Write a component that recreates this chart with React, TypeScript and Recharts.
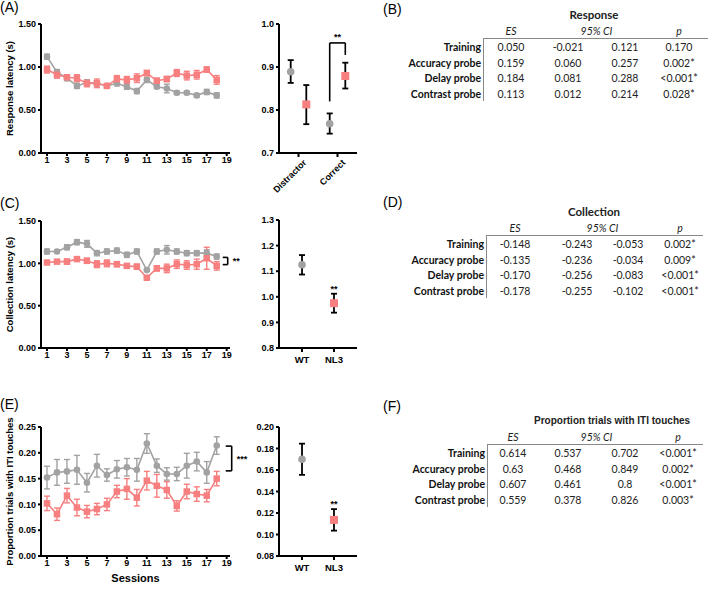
import React from 'react';
import {
  LineChart, Line, XAxis, YAxis, ErrorBar, ScatterChart, Scatter,
  ReferenceLine, ReferenceDot, Label,
} from 'recharts';

// ---------- DATA ----------
const sessions = [1, 2, 3, 4, 5, 6, 7, 8, 9, 10, 11, 12, 13, 14, 15, 16, 17, 18];
const sessionTicks = [1, 3, 5, 7, 9, 11, 13, 15, 17, 19];

// (A) Response latency
const respWT = [1.12, 0.94, 0.87, 0.78, 0.82, 0.81, 0.78, 0.81, 0.77, 0.72, 0.85, 0.77, 0.75, 0.70, 0.70, 0.67, 0.71, 0.67];
const respWTErr = [0.03, 0.03, 0.03, 0.03, 0.03, 0.03, 0.02, 0.03, 0.03, 0.03, 0.03, 0.02, 0.05, 0.02, 0.02, 0.02, 0.03, 0.03];
const respNL3 = [0.97, 0.91, 0.88, 0.87, 0.81, 0.81, 0.78, 0.86, 0.85, 0.87, 0.93, 0.84, 0.86, 0.93, 0.90, 0.91, 0.97, 0.85];
const respNL3Err = [0.04, 0.04, 0.03, 0.04, 0.04, 0.05, 0.02, 0.04, 0.04, 0.05, 0.03, 0.03, 0.03, 0.04, 0.05, 0.05, 0.03, 0.05];
const respTicks = [0, 0.5, 1.0, 1.5];

// (A, right) Distractor vs Correct
const trialTypes = ['Distractor', 'Correct'];
const trialWT = [0.889, 0.768];
const trialWTLow = [0.026, 0.023];
const trialWTHigh = [0.027, 0.024];
const trialNL3 = [0.813, 0.879];
const trialNL3Low = [0.046, 0.029];
const trialNL3High = [0.045, 0.031];
const trialTicks = [0.7, 0.8, 0.9, 1.0];

// (C) Collection latency
const collWT = [1.14, 1.14, 1.19, 1.25, 1.23, 1.12, 1.14, 1.15, 1.10, 1.14, 0.92, 1.14, 1.16, 1.14, 1.12, 1.12, 1.12, 1.08];
const collWTErr = [0.03, 0.02, 0.03, 0.03, 0.04, 0.03, 0.03, 0.03, 0.03, 0.03, 0.01, 0.03, 0.05, 0.03, 0.03, 0.03, 0.04, 0.03];
const collNL3 = [1.01, 1.02, 1.02, 1.05, 1.03, 0.99, 1.00, 0.99, 0.97, 0.96, 0.83, 0.94, 0.94, 0.99, 0.98, 0.99, 1.06, 0.97];
const collNL3Err = [0.02, 0.02, 0.03, 0.02, 0.03, 0.04, 0.04, 0.03, 0.02, 0.03, 0.02, 0.03, 0.05, 0.05, 0.05, 0.06, 0.13, 0.05];
const collTicks = [0, 0.5, 1.0, 1.5];

// (C, right) genotype means
const genotypes = ['WT', 'NL3'];
const collGenoWT = [1.125];
const collGenoWTErr = [0.038];
const collGenoNL3 = [0.975];
const collGenoNL3Err = [0.037];
const collGenoTicks = [0.8, 0.9, 1.0, 1.1, 1.2, 1.3];

// (E) Proportion trials with ITI touches
const itiWT = [0.152, 0.162, 0.164, 0.167, 0.142, 0.175, 0.157, 0.168, 0.172, 0.167, 0.218, 0.175, 0.159, 0.159, 0.175, 0.183, 0.162, 0.214];
const itiWTErr = [0.022, 0.025, 0.023, 0.028, 0.018, 0.022, 0.012, 0.017, 0.017, 0.022, 0.019, 0.013, 0.012, 0.013, 0.024, 0.018, 0.021, 0.017];
const itiNL3 = [0.102, 0.081, 0.117, 0.094, 0.086, 0.091, 0.100, 0.125, 0.130, 0.113, 0.146, 0.136, 0.128, 0.097, 0.125, 0.120, 0.117, 0.150];
const itiNL3Err = [0.014, 0.012, 0.014, 0.016, 0.012, 0.011, 0.012, 0.012, 0.020, 0.016, 0.018, 0.022, 0.016, 0.010, 0.014, 0.014, 0.012, 0.014];
const itiTicks = [0, 0.05, 0.10, 0.15, 0.20, 0.25];

// (E, right)
const itiGenoWT = [0.170];
const itiGenoWTErr = [0.0145];
const itiGenoNL3 = [0.1136];
const itiGenoNL3Err = [0.010];
const itiGenoTicks = [0.08, 0.10, 0.12, 0.14, 0.16, 0.18, 0.20];

// Tables
const rowLabels = ['Training', 'Accuracy probe', 'Delay probe', 'Contrast probe'];
const respES = ['0.050', '0.159', '0.184', '0.113'];
const respLo = ['-0.021', '0.060', '0.081', '0.012'];
const respHi = ['0.121', '0.257', '0.288', '0.214'];
const respP = ['0.170', '0.002*', '<0.001*', '0.028*'];

const collES = ['-0.148', '-0.135', '-0.170', '-0.178'];
const collLo = ['-0.243', '-0.236', '-0.256', '-0.255'];
const collHi = ['-0.053', '-0.034', '-0.083', '-0.102'];
const collP = ['0.002*', '0.009*', '<0.001*', '<0.001*'];

const itiES = ['0.614', '0.63', '0.607', '0.559'];
const itiLo = ['0.537', '0.468', '0.461', '0.378'];
const itiHi = ['0.702', '0.849', '0.8', '0.826'];
const itiP = ['<0.001*', '0.002*', '<0.001*', '0.003*'];

// ---------- STYLE ----------
const GRAY = '#a2a2a2';
const PINK = '#f77f7f';
const AX = 'Liberation Sans, Arial, sans-serif';
const TAB = 'Lato, "Open Sans", sans-serif';
const tickStyle = { fontSize: 9, fontWeight: 'bold', fill: '#000', fontFamily: AX };
const axisLine = { stroke: '#000', strokeWidth: 2 };

const circleDot = (r: number, color: string) => (p: any) => (
  <circle key={`c-${p.index}`} cx={p.cx} cy={p.cy} r={r} fill={color} stroke="none" />
);
const squareDot = (s: number, color: string) => (p: any) => (
  <rect key={`s-${p.index}`} x={p.cx - s / 2} y={p.cy - s / 2} width={s} height={s} fill={color} stroke="none" />
);

const yLabel = (text: string) => (p: any) => {
  const vb = p.viewBox || {};
  const cx = 9;
  const cy = vb.y + vb.height / 2;
  return (
    <text x={cx} y={cy} transform={`rotate(-90, ${cx}, ${cy})`} textAnchor="middle"
      dominantBaseline="central" style={{ fontSize: 9.5, fontWeight: 'bold', fontFamily: AX, fill: '#000' }}>
      {text}
    </text>
  );
};

function SessionChart(props: {
  top: number; height: number; marginTop: number; xAxisHeight: number;
  wt: number[]; wtErr: number[]; nl3: number[]; nl3Err: number[];
  yTicks: number[]; yLabelText: string; showSessions?: boolean;
  bracket?: { x0: number; x1: number; yTop: number; yBot: number; stars: string };
}) {
  const data = sessions.map((s, i) => ({
    s, wt: props.wt[i], wtErr: props.wtErr[i], nl3: props.nl3[i], nl3Err: props.nl3Err[i],
  }));
  const yt = props.yTicks;
  const b = props.bracket;
  return (
    <div style={{ position: 'absolute', left: 0, top: props.top }}>
      <LineChart width={270} height={props.height} data={data}
        margin={{ top: props.marginTop, right: 40, bottom: 0, left: 0 }}>
        <XAxis type="number" dataKey="s" domain={[0.4, 19.33]} ticks={sessionTicks}
          allowDataOverflow tick={tickStyle} axisLine={axisLine} tickLine={axisLine}
          tickSize={3} tickMargin={1} height={props.xAxisHeight} interval={0}>
          {props.showSessions ? (
            <Label value="Sessions" position="insideBottom" offset={4}
              style={{ fontSize: 11, fontWeight: 'bold', fontFamily: AX, fill: '#000' }} />
          ) : null}
        </XAxis>
        <YAxis type="number" domain={[yt[0], yt[yt.length - 1]]} ticks={yt} width={41}
          tickFormatter={(v: number) => v.toFixed(2)} tick={tickStyle} axisLine={axisLine}
          tickLine={axisLine} tickSize={3} tickMargin={2} interval={0}>
          <Label content={yLabel(props.yLabelText)} />
        </YAxis>
        <Line dataKey="wt" stroke={GRAY} strokeWidth={1.6} isAnimationActive={false}
          dot={circleDot(3.3, GRAY)} activeDot={false}>
          <ErrorBar dataKey="wtErr" direction="y" width={3} stroke={GRAY} strokeWidth={1.4} />
        </Line>
        <Line dataKey="nl3" stroke={PINK} strokeWidth={1.6} isAnimationActive={false}
          dot={squareDot(6.5, PINK)} activeDot={false}>
          <ErrorBar dataKey="nl3Err" direction="y" width={3} stroke={PINK} strokeWidth={1.4} />
        </Line>
        {b ? (
          <ReferenceLine ifOverflow="visible" stroke="#000" strokeWidth={1.6}
            segment={[{ x: b.x0, y: b.yTop }, { x: b.x1, y: b.yTop }]} />
        ) : null}
        {b ? (
          <ReferenceLine ifOverflow="visible" stroke="#000" strokeWidth={1.6}
            segment={[{ x: b.x1, y: b.yTop }, { x: b.x1, y: b.yBot }]} />
        ) : null}
        {b ? (
          <ReferenceLine ifOverflow="visible" stroke="#000" strokeWidth={1.6}
            segment={[{ x: b.x0, y: b.yBot }, { x: b.x1, y: b.yBot }]} />
        ) : null}
        {b ? (
          <ReferenceDot ifOverflow="visible" x={b.x1} y={(b.yTop + b.yBot) / 2} r={0}
            label={{ value: b.stars, position: 'right', offset: 5, style: { fontSize: 9, fontWeight: 'bold', fill: '#000', fontFamily: AX } }} />
        ) : null}
      </LineChart>
    </div>
  );
}

function GenoChart(props: {
  top: number; height: number; marginTop: number; xAxisHeight: number;
  cats: string[]; wtX: number[]; wt: number[]; wtLow: number[]; wtHigh: number[];
  nlX: number[]; nl3: number[]; nl3Low: number[]; nl3High: number[];
  yTicks: number[]; decimals: number; domain: [number, number];
  rotate?: boolean; starsOverNL3?: boolean;
  bracket?: { x0: number; x1: number; yTop: number; yLeft: number; yRight: number };
}) {
  const wtData = props.wt.map((v, i) => ({ x: props.wtX[i], y: v, err: [props.wtLow[i], props.wtHigh[i]] }));
  const nlData = props.nl3.map((v, i) => ({ x: props.nlX[i], y: v, err: [props.nl3Low[i], props.nl3High[i]] }));
  const yt = props.yTicks;
  const catTick = (p: any) => {
    const label = props.cats[Math.round(p.payload.value) - 1];
    if (props.rotate) {
      return (
        <g transform={`translate(${p.x},${p.y})`}>
          <text x={0} y={0} dy={9} dx={3} textAnchor="end" transform="rotate(-45)"
            style={{ fontSize: 9, fontWeight: 'bold', fontFamily: AX, fill: '#000' }}>{label}</text>
        </g>
      );
    }
    return (
      <text x={p.x} y={p.y} dy={9} textAnchor="middle"
        style={{ fontSize: 9.5, fontWeight: 'bold', fontFamily: AX, fill: '#000' }}>{label}</text>
    );
  };
  const b = props.bracket;
  const bs = { fontSize: 9, fontWeight: 'bold', fill: '#000', fontFamily: AX };
  return (
    <div style={{ position: 'absolute', left: 250, top: props.top }}>
      <ScatterChart width={112} height={props.height}
        margin={{ top: props.marginTop, right: 5, bottom: 0, left: 0 }}>
        <XAxis type="number" dataKey="x" domain={props.domain} ticks={props.cats.map((_, i) => i + 1)}
          allowDataOverflow tick={catTick} axisLine={axisLine} tickLine={axisLine}
          tickSize={4} height={props.xAxisHeight} interval={0} />
        <YAxis type="number" dataKey="y" domain={[yt[0], yt[yt.length - 1]]} ticks={yt} width={29}
          tickFormatter={(v: number) => v.toFixed(props.decimals)} tick={tickStyle}
          axisLine={axisLine} tickLine={axisLine} tickSize={3} tickMargin={2} interval={0} />
        <Scatter data={wtData} fill={GRAY} isAnimationActive={false}
          shape={(p: any) => <circle cx={p.cx} cy={p.cy} r={3.8} fill={GRAY} />}>
          <ErrorBar dataKey="err" direction="y" width={3} stroke="#000" strokeWidth={1.8} />
        </Scatter>
        <Scatter data={nlData} fill={PINK} isAnimationActive={false}
          shape={(p: any) => <rect x={p.cx - 4} y={p.cy - 4} width={8} height={8} fill={PINK} />}>
          <ErrorBar dataKey="err" direction="y" width={3} stroke="#000" strokeWidth={1.8} />
        </Scatter>
        {props.starsOverNL3
          ? props.nl3.map((v, i) => (
            <ReferenceDot key={`st-${i}`} ifOverflow="visible" x={props.nlX[i]}
              y={v + props.nl3High[i]} r={0}
              label={{ value: '**', position: 'top', offset: 2, style: bs }} />
          ))
          : null}
        {b ? (
          <ReferenceLine ifOverflow="visible" stroke="#000" strokeWidth={1.6}
            segment={[{ x: b.x0, y: b.yLeft }, { x: b.x0, y: b.yTop }]} />
        ) : null}
        {b ? (
          <ReferenceLine ifOverflow="visible" stroke="#000" strokeWidth={1.6}
            segment={[{ x: b.x0, y: b.yTop }, { x: b.x1, y: b.yTop }]} />
        ) : null}
        {b ? (
          <ReferenceLine ifOverflow="visible" stroke="#000" strokeWidth={1.6}
            segment={[{ x: b.x1, y: b.yTop }, { x: b.x1, y: b.yRight }]} />
        ) : null}
        {b ? (
          <ReferenceDot ifOverflow="visible" x={(b.x0 + b.x1) / 2} y={b.yTop} r={0}
            label={{ value: '**', position: 'top', offset: 3, style: bs }} />
        ) : null}
      </ScatterChart>
    </div>
  );
}

function StatTable(props: {
  top: number; title: string; titleFont?: string; titleSize?: number;
  es: string[]; lo: string[]; hi: string[]; p: string[];
  cols: number[]; vline: number; lineEnd: number;
}) {
  const [cEs, cLo, cHi, cP] = props.cols;
  const t = props.top;
  const abs = (x: number, y: number, text: string, style: any, align: 'center' | 'right' = 'center') => (
    <div style={{
      position: 'absolute', top: y - 8, height: 16, lineHeight: '16px', whiteSpace: 'nowrap',
      ...(align === 'center' ? { left: x - 60, width: 120, textAlign: 'center' } : { left: x - 150, width: 150, textAlign: 'right' }),
      ...style,
    }}>{text}</div>
  );
  const base = { fontFamily: TAB, fontSize: 10.5, color: '#222' };
  return (
    <div style={{ position: 'absolute', left: 0, top: 0 }}>
      {abs(594, t, props.title, { ...base, fontFamily: props.titleFont || TAB, fontSize: props.titleSize || 11.5, fontWeight: 'bold' })}
      {abs(cEs, t + 16, 'ES', { ...base, fontStyle: 'italic' })}
      {abs((cLo + cHi) / 2, t + 16, '95% CI', { ...base, fontStyle: 'italic' })}
      {abs(cP, t + 16, 'p', { ...base, fontStyle: 'italic' })}
      <div style={{ position: 'absolute', left: props.vline, top: t + 23, width: props.lineEnd - props.vline, height: 0, borderTop: '1px solid #888' }} />
      <div style={{ position: 'absolute', left: props.vline, top: t + 23, width: 0, height: 63, borderLeft: '1px solid #888' }} />
      {rowLabels.map((r, i) => (
        <React.Fragment key={r}>
          {abs(props.vline - 2, t + 32 + i * 15.5, r, { ...base, fontWeight: 'bold', color: '#111' }, 'right')}
          {abs(cEs, t + 32 + i * 15.5, props.es[i], base)}
          {abs(cLo, t + 32 + i * 15.5, props.lo[i], base)}
          {abs(cHi, t + 32 + i * 15.5, props.hi[i], base)}
          {abs(cP, t + 32 + i * 15.5, props.p[i], base)}
        </React.Fragment>
      ))}
    </div>
  );
}

const panelLabel = (x: number, y: number, text: string) => (
  <div style={{ position: 'absolute', left: x, top: y, fontFamily: AX, fontSize: 14, lineHeight: '16px', color: '#000' }}>{text}</div>
);

export default function App() {
  return (
    <div style={{ position: 'absolute', left: 0, top: 0, width: 709, height: 590, background: '#fff', overflow: 'hidden' }}>
      {panelLabel(0, -1, '(A)')}
      {panelLabel(383, 1, '(B)')}
      {panelLabel(0, 195, '(C)')}
      {panelLabel(383, 194, '(D)')}
      {panelLabel(0, 396, '(E)')}
      {panelLabel(383, 398, '(F)')}

      <SessionChart top={0} height={175} marginTop={24} xAxisHeight={22}
        wt={respWT} wtErr={respWTErr} nl3={respNL3} nl3Err={respNL3Err}
        yTicks={respTicks} yLabelText="Response latency (s)" />
      <GenoChart top={0} height={200} marginTop={24} xAxisHeight={47}
        cats={trialTypes} wtX={[0.8, 1.8]} wt={trialWT} wtLow={trialWTLow} wtHigh={trialWTHigh}
        nlX={[1.2, 2.2]} nl3={trialNL3} nl3Low={trialNL3Low} nl3High={trialNL3High}
        yTicks={trialTicks} decimals={1} domain={[0.5, 2.5]} rotate
        bracket={{ x0: 1.8, x1: 2.2, yTop: 0.956, yLeft: 0.82, yRight: 0.928 }} />
      <StatTable top={15} title="Response" es={respES} lo={respLo} hi={respHi} p={respP}
        cols={[511, 568, 625, 679]} vline={483} lineEnd={708} />

      <SessionChart top={190} height={180} marginTop={31} xAxisHeight={22}
        wt={collWT} wtErr={collWTErr} nl3={collNL3} nl3Err={collNL3Err}
        yTicks={collTicks} yLabelText="Collection latency (s)"
        bracket={{ x0: 18.6, x1: 19.1, yTop: 1.07, yBot: 0.985, stars: '**' }} />
      <GenoChart top={190} height={180} marginTop={30} xAxisHeight={22}
        cats={genotypes} wtX={[1]} wt={collGenoWT} wtLow={collGenoWTErr} wtHigh={collGenoWTErr}
        nlX={[2]} nl3={collGenoNL3} nl3Low={collGenoNL3Err} nl3High={collGenoNL3Err}
        yTicks={collGenoTicks} decimals={1} domain={[0.28, 2.72]} starsOverNL3 />
      <StatTable top={212} title="Collection" es={collES} lo={collLo} hi={collHi} p={collP}
        cols={[515, 577, 628, 680]} vline={486} lineEnd={703} />

      <SessionChart top={370} height={216} marginTop={57} xAxisHeight={30}
        wt={itiWT} wtErr={itiWTErr} nl3={itiNL3} nl3Err={itiNL3Err}
        yTicks={itiTicks} yLabelText="Proportion trials with ITI touches" showSessions
        bracket={{ x0: 18.9, x1: 19.5, yTop: 0.213, yBot: 0.165, stars: '***' }} />
      <GenoChart top={370} height={208} marginTop={57} xAxisHeight={22}
        cats={genotypes} wtX={[1]} wt={itiGenoWT} wtLow={itiGenoWTErr} wtHigh={itiGenoWTErr}
        nlX={[2]} nl3={itiGenoNL3} nl3Low={itiGenoNL3Err} nl3High={itiGenoNL3Err}
        yTicks={itiGenoTicks} decimals={2} domain={[0.28, 2.72]} starsOverNL3 />
      <StatTable top={421} title="Proportion trials with ITI touches" titleFont={AX} titleSize={10}
        es={itiES} lo={itiLo} hi={itiHi} p={itiP}
        cols={[513, 568, 625, 678]} vline={487} lineEnd={703} />
    </div>
  );
}
